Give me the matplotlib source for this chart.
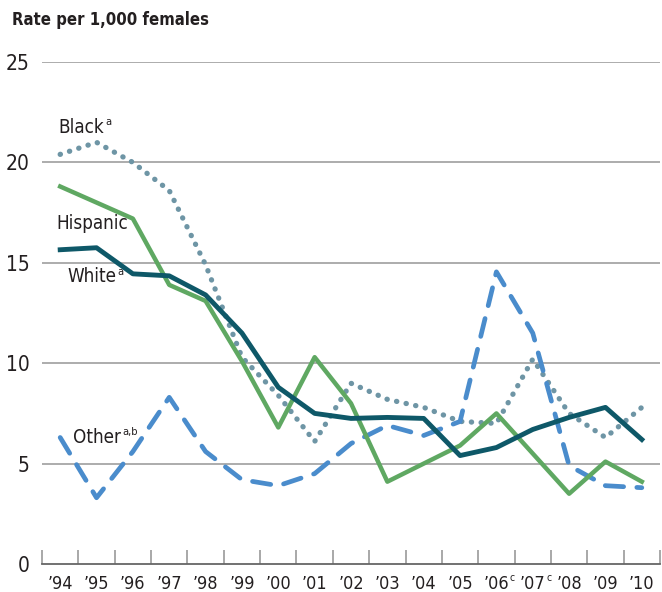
import matplotlib
matplotlib.use("Agg")
import matplotlib.pyplot as plt

years = ["\u201994", "\u201995", "\u201996", "\u201997", "\u201998", "\u201999",
         "\u201900", "\u201901", "\u201902", "\u201903", "\u201904", "\u201905",
         "\u201906", "\u201907", "\u201908", "\u201909", "\u201910"]
year_notes = ["", "", "", "", "", "", "", "", "", "", "", "", "c", "c", "", "", ""]

black = [20.4, 21.0, 20.0, 18.6, 14.9, 10.3, 8.4, 6.1, 9.0, 8.2, 7.8, 7.1,
         7.0, 10.2, 7.5, 6.3, 7.8]
hispanic = [18.8, 18.0, 17.2, 13.9, 13.1, 10.1, 6.8, 10.3, 8.0, 4.1, 5.0, 5.9,
            7.5, 5.5, 3.5, 5.1, 4.1]
white = [15.65, 15.75, 14.45, 14.35, 13.4, 11.5, 8.8, 7.5, 7.25, 7.3, 7.25,
         5.4, 5.8, 6.7, 7.3, 7.8, 6.2]
other = [6.3, 3.3, 5.6, 8.3, 5.6, 4.2, 3.9, 4.5, 6.0, 6.9, 6.4, 7.1, 14.55,
         11.5, 4.9, 3.9, 3.8]

yticks = [0, 5, 10, 15, 20, 25]

plt.rcParams["font.family"] = ["DejaVu Sans"]
plt.rcParams["font.stretch"] = "condensed"

c_black = "#6e95a5"
c_hisp = "#5fa862"
c_white = "#0e5868"
c_other = "#4a8ccc"
c_text = "#231f20"
c_grid = "#a6a6a6"

fig = plt.figure(figsize=(6.62, 5.92), dpi=100)
ax = fig.add_axes([42 / 662, 1 - 564 / 592, 618 / 662, (564 - 62) / 592])

x = list(range(len(years)))

for yv in yticks[1:]:
    ax.axhline(yv, color=c_grid, linewidth=1.3, zorder=1)

ax.plot(x, black, color=c_black, linewidth=3.8, linestyle=(0, (0.05, 1.8)),
        dash_capstyle="round", zorder=3)
ax.plot(x, other, color=c_other, linewidth=3.4, linestyle=(0, (3.9, 2.8)),
        dash_capstyle="round", zorder=3)
ax.plot(x, hispanic, color=c_hisp, linewidth=3.2, zorder=4)
ax.plot(x, white, color=c_white, linewidth=3.5, zorder=5)

ax.set_xlim(-0.5, len(years) - 0.5)
ax.set_ylim(0, 25)

for side in ["top", "right", "left"]:
    ax.spines[side].set_visible(False)
ax.spines["bottom"].set_color("#666666")
ax.spines["bottom"].set_linewidth(1.3)

ax.set_yticks(yticks)
ax.set_yticklabels([str(v) for v in yticks], fontsize=15, color=c_text)
ax.tick_params(axis="y", length=0, pad=9)

ax.set_xticks([i - 0.5 for i in range(len(years) + 1)])
ax.set_xticklabels([])
ax.tick_params(axis="x", direction="in", length=10, width=1.2, color="#999999")
for i, lab in enumerate(years):
    t = ax.text(i, -0.55, lab, ha="center", va="top", fontsize=13, color=c_text)
    if year_notes[i]:
        ax.annotate(year_notes[i], xy=(1, 0.55), xycoords=t, xytext=(0.5, 0),
                    textcoords="offset points", fontsize=7.5, color=c_text,
                    ha="left", va="bottom")

fig.text(12 / 662, 1 - 20 / 592, "Rate per 1,000 females", fontsize=12,
         fontweight="bold", color=c_text, ha="left", va="center")

# series labels
labels = [
    ("Black", "a", -0.05, 21.75),
    ("Hispanic", "", -0.1, 16.95),
    ("White", "a", 0.2, 14.3),
    ("Other", "a,b", 0.35, 6.3),
]
for name, sup, lx, ly in labels:
    t = ax.text(lx, ly, name, fontsize=13.5, color=c_text, ha="left", va="center")
    if sup:
        ax.annotate(sup, xy=(1, 0.5), xycoords=t, xytext=(0.8, 0),
                    textcoords="offset points", fontsize=8, color=c_text,
                    ha="left", va="bottom")

fig.savefig("out.png", dpi=100)
plt.close(fig)
